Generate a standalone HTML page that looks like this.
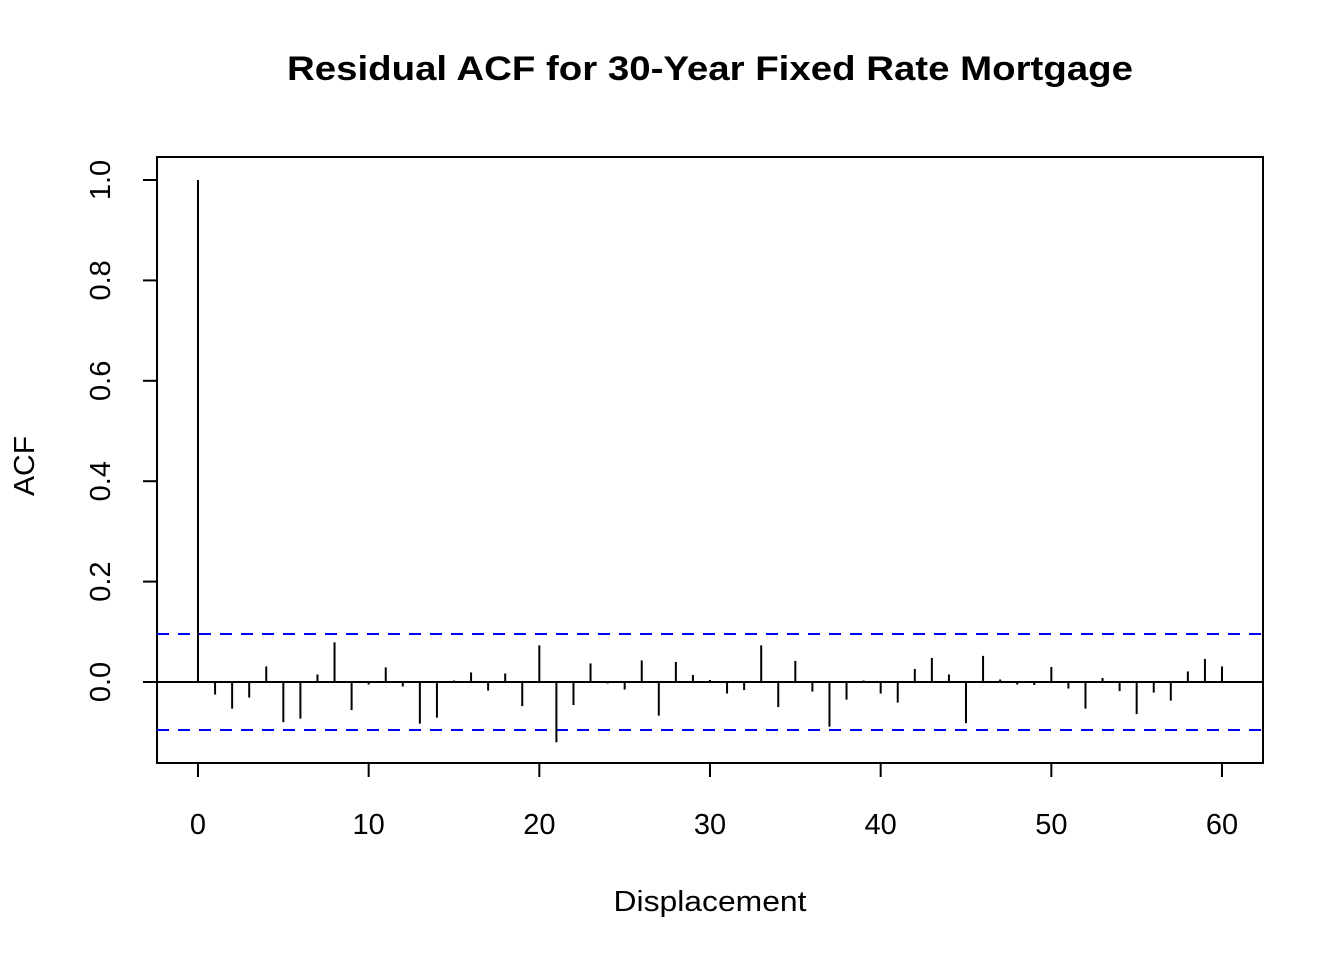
<!DOCTYPE html>
<html><head><meta charset="utf-8"><style>
html,body{margin:0;padding:0;background:#fff;}
svg{display:block;font-family:"Liberation Sans",Arial,sans-serif;}
</style></head><body>
<svg id="chart" width="1344" height="960" viewBox="0 0 1344 960">
<text x="710" y="80" text-anchor="middle" font-size="34" font-weight="bold" textLength="846" lengthAdjust="spacingAndGlyphs">Residual ACF for 30-Year Fixed Rate Mortgage</text>
<rect x="157" y="157" width="1106" height="606" fill="none" stroke="#000" stroke-width="2"/>
<text x="710" y="911" text-anchor="middle" font-size="29" textLength="193" lengthAdjust="spacingAndGlyphs">Displacement</text>
<text transform="translate(34,466) rotate(-90)" text-anchor="middle" font-size="29" textLength="60" lengthAdjust="spacingAndGlyphs">ACF</text>
<g id="marks"></g>
</svg>
<script>
const lags = Array.from({length:61},(_,i)=>i);
const acfValues = [1.0,-0.025,-0.053,-0.031,0.031,-0.080,-0.073,0.015,0.079,-0.056,-0.005,0.029,-0.009,-0.083,-0.071,0.003,0.019,-0.017,0.017,-0.048,0.073,-0.120,-0.046,0.037,-0.003,-0.015,0.043,-0.067,0.040,0.014,0.004,-0.023,-0.016,0.073,-0.050,0.042,-0.019,-0.089,-0.035,0.003,-0.023,-0.041,0.026,0.048,0.015,-0.082,0.052,0.005,-0.005,-0.006,0.030,-0.013,-0.053,0.008,-0.018,-0.064,-0.021,-0.037,0.021,0.046,0.031];
const confBound = [0.0956];
const xTicks = [0,10,20,30,40,50,60];
const yTicks = [0.0,0.2,0.4,0.6,0.8,1.0];
const yTickLabels = ["0.0","0.2","0.4","0.6","0.8","1.0"];

const X = v => 198 + v*(1222-198)/60;
const Y = v => 682 - v*502;
const NS = "http://www.w3.org/2000/svg";
const g = document.getElementById('marks');
function mk(tag, attrs){const e=document.createElementNS(NS,tag);for(const k in attrs)e.setAttribute(k,attrs[k]);g.appendChild(e);return e;}

let ax = mk('line',{x1:X(0),x2:X(60),y1:763,y2:763,stroke:'#000','stroke-width':2});


xTicks.forEach(t=>{
  const l=mk('line',{x1:X(t),x2:X(t),y1:763,y2:777,stroke:'#000','stroke-width':2});
  
  
  const tx=mk('text',{x:X(t),y:834,'text-anchor':'middle','font-size':29});
  tx.textContent=t;
  
  
});
let ay = mk('line',{x1:157,x2:157,y1:Y(0),y2:Y(1),stroke:'#000','stroke-width':2});


yTicks.forEach((t,i)=>{
  const l=mk('line',{x1:143,x2:157,y1:Y(t),y2:Y(t),stroke:'#000','stroke-width':2});
  
  
  const tx=mk('text',{transform:`translate(110,${Y(t)}) rotate(-90)`,'text-anchor':'middle','font-size':29});
  tx.textContent=yTickLabels[i];
  
  
});
let z = mk('line',{x1:157,x2:1263,y1:Y(0),y2:Y(0),stroke:'#000','stroke-width':2});


[confBound[0],-confBound[0]].forEach(b=>{
  const l=mk('line',{x1:157,x2:1263,y1:Y(b),y2:Y(b),stroke:'#0000ff','stroke-width':2,'stroke-dasharray':'12,9'});
  
  
});
lags.forEach((lag,i)=>{
  const l=mk('line',{x1:X(lag),x2:X(lag),y1:Y(0),y2:Y(acfValues[i]),stroke:'#000','stroke-width':2});
  
  
});
</script>
</body></html>
